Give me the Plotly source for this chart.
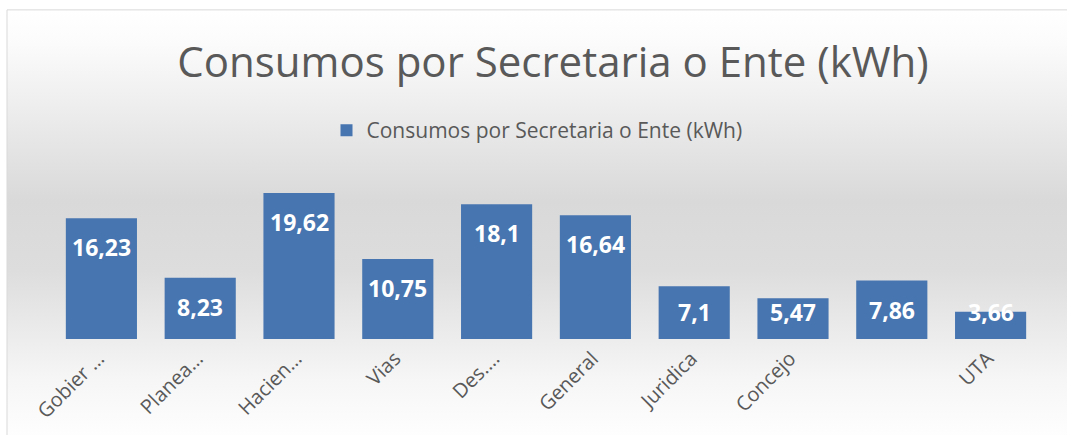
import base64
import plotly.graph_objects as go

categories = ["Gobier …", "Planea…", "Hacien…", "Vias", "Des.…", "General",
              "Juridica", "Concejo", " ", "UTA"]
values = [16.23, 8.23, 19.62, 10.75, 18.1, 16.64, 7.1, 5.47, 7.86, 3.66]
labels = ["16,23", "8,23", "19,62", "10,75", "18,1", "16,64", "7,1", "5,47", "7,86", "3,66"]
series_name = "Consumos por Secretaria o Ente (kWh)"
title_text = "Consumos por Secretaria o Ente (kWh)"

W, H = 1067, 435
ML, MR, MT, MB = 52, 27, 152.5, 96
YMAX = 25
plot_w = W - ML - MR
plot_h = H - MT - MB
ppu = plot_h / YMAX

def px_to_paper_x(px):
    return (px - ML) / plot_w

def px_to_paper_y(py):
    return (H - MB - py) / plot_h

FONT = "Open Sans"
GREY = "#595959"

svg = (
    '<svg xmlns="http://www.w3.org/2000/svg" width="100" height="100" preserveAspectRatio="none">'
    '<defs><linearGradient id="g" x1="0" y1="0" x2="0" y2="1">'
    '<stop offset="0" stop-color="#ffffff"/>'
    '<stop offset="0.08" stop-color="#fbfbfb"/>'
    '<stop offset="0.44" stop-color="#d9d9d9"/>'
    '<stop offset="0.60" stop-color="#dddddd"/>'
    '<stop offset="0.85" stop-color="#f6f6f6"/>'
    '<stop offset="1" stop-color="#ffffff"/>'
    '</linearGradient></defs>'
    '<rect x="0" y="0" width="100" height="100" fill="url(#g)"/></svg>'
)
svg_uri = "data:image/svg+xml;base64," + base64.b64encode(svg.encode()).decode()

fig = go.Figure()
fig.add_trace(go.Bar(
    x=categories, y=values, name=series_name,
    marker=dict(color="#4675b0", line=dict(width=0)),
    showlegend=True,
))

for c, v, t in zip(categories, values, labels):
    shift = min(29, max(v * ppu - 27, 0))
    fig.add_annotation(
        x=c, y=v, xref="x", yref="y", text=t, showarrow=False,
        yanchor="middle", yshift=-shift,
        font=dict(family=FONT, size=23, color="#ffffff", weight="bold"),
    )

frame_x0 = px_to_paper_x(7)
frame_y1 = px_to_paper_y(9)
frame_x1 = px_to_paper_x(1075)
frame_y0 = px_to_paper_y(445)

fig.add_layout_image(dict(
    source=svg_uri, xref="paper", yref="paper",
    x=frame_x0, y=frame_y1, sizex=frame_x1 - frame_x0, sizey=frame_y1 - frame_y0,
    xanchor="left", yanchor="top", sizing="stretch", layer="below",
))
fig.add_shape(type="rect", xref="paper", yref="paper",
              x0=frame_x0, x1=frame_x1, y0=frame_y0, y1=frame_y1,
              line=dict(color="#d9d9d9", width=1), fillcolor="rgba(0,0,0,0)", layer="below")

fig.update_layout(
    width=W, height=H,
    margin=dict(l=ML, r=MR, t=MT, b=MB, autoexpand=False),
    paper_bgcolor="#ffffff", plot_bgcolor="rgba(0,0,0,0)",
    bargap=0.28,
    title=dict(text=title_text, x=553 / W, xanchor="center", y=1 - 62 / H, yanchor="middle",
               font=dict(family=FONT, size=42, color=GREY)),
    legend=dict(orientation="h", x=px_to_paper_x(537), xanchor="center",
                y=px_to_paper_y(130), yanchor="middle",
                font=dict(family=FONT, size=21, color=GREY), bgcolor="rgba(0,0,0,0)"),
    xaxis=dict(tickangle=-45, showline=False, showgrid=False, zeroline=False, ticks="",
               ticklabelstandoff=3, ticklabelshift=-3,
               tickfont=dict(family=FONT, size=20, color=GREY)),
    yaxis=dict(range=[0, YMAX], visible=False, showgrid=False, zeroline=False),
)

fig.write_html("out.html", config={"displayModeBar": False},
               post_script="document.body.style.margin='0';document.body.style.overflow='hidden';")
